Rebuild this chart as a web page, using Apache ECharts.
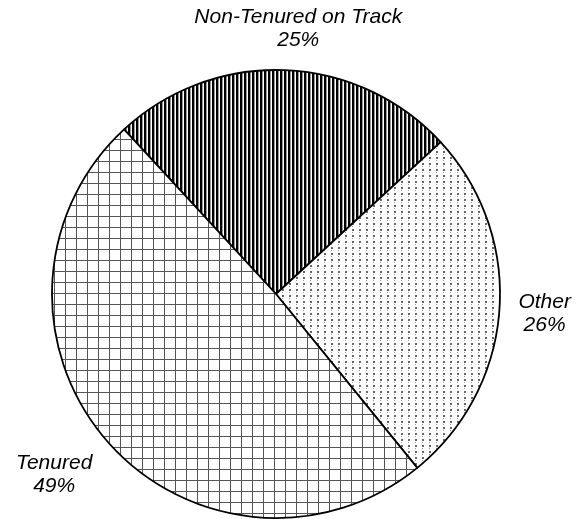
<!DOCTYPE html>
<html>
<head>
<meta charset="utf-8">
<script src="https://cdn.jsdelivr.net/npm/echarts@6/dist/echarts.min.js"></script>
<style>
  html, body { margin: 0; padding: 0; background: #fff; }
  #chart { width: 578px; height: 519px; }
</style>
</head>
<body>
<div id="chart"></div>
<script>
// Faculty composition by tenure status
const categories = ['Non-Tenured on Track', 'Other', 'Tenured'];
const values = [25, 26, 49];

// Pie geometry
const CENTER = [276, 294];
const RADIUS = 224;
const START_ANGLE = 132.7;
const LABEL_GAP = 19;

// Hatch fills drawn into small repeating tiles
function makeTile(w, h, draw) {
  const c = document.createElement('canvas');
  c.width = w; c.height = h;
  const ctx = c.getContext('2d');
  ctx.fillStyle = '#fff';
  ctx.fillRect(0, 0, w, h);
  draw(ctx);
  return c;
}

const stripeTile = makeTile(4, 4, ctx => {
  ctx.fillStyle = '#000';
  ctx.fillRect(0, 0, 2, 4);
  ctx.fillStyle = '#9a9a9a';
  ctx.fillRect(2, 0, 1, 4);
});

const dotTile = makeTile(7, 6, ctx => {
  ctx.fillStyle = '#666';
  ctx.fillRect(2, 1, 2, 2);
  ctx.fillStyle = '#999';
  ctx.fillRect(2, 4, 1, 1);
});

const gridTile = makeTile(11, 11, ctx => {
  ctx.fillStyle = '#555';
  ctx.fillRect(10, 0, 1, 11);
  ctx.fillRect(0, 7, 11, 1);
});

const fills = [stripeTile, dotTile, gridTile];

// Mid-angle of each slice (degrees, counter-clockwise from 3 o'clock), slices run clockwise
const total = values.reduce((a, b) => a + b, 0);
const midAngles = [];
{
  let a = START_ANGLE;
  values.forEach(v => {
    const span = v / total * 360;
    midAngles.push(a - span / 2);
    a -= span;
  });
}

const clamp = (v, lo, hi) => Math.max(lo, Math.min(hi, v));

const chart = echarts.init(document.getElementById('chart'), null, { renderer: 'canvas' });

chart.setOption({
  animation: false,
  backgroundColor: '#fff',
  series: [{
    type: 'pie',
    center: CENTER,
    radius: RADIUS,
    startAngle: START_ANGLE,
    clockwise: true,
    silent: true,
    data: categories.map((name, i) => ({
      name,
      value: values[i],
      itemStyle: { color: { image: fills[i], repeat: 'repeat' } }
    })),
    itemStyle: { borderColor: '#000', borderWidth: 1.8 },
    label: {
      show: true,
      position: 'outside',
      overflow: 'none',
      formatter: p => p.name + '\n' + p.value + '%',
      fontFamily: '"Liberation Sans", Arial, sans-serif',
      fontStyle: 'italic',
      fontSize: 21,
      lineHeight: 23,
      color: '#000',
      align: 'center'
    },
    labelLine: { show: false },
    emphasis: { disabled: true },
    // Place each label just beyond the rim along its slice's mid-angle
    labelLayout: function (params) {
      const th = midAngles[params.dataIndex] * Math.PI / 180;
      const c = Math.cos(th), s = Math.sin(th);
      const px = CENTER[0] + (RADIUS + LABEL_GAP) * c;
      const py = CENTER[1] - (RADIUS + LABEL_GAP) * s;
      const w = params.labelRect.width, h = params.labelRect.height;
      return {
        x: px + w / 2 * clamp(c * 3, -1, 1),
        y: py - h / 2 * clamp(s * 1.4, -1, 1),
        align: 'center',
        verticalAlign: 'middle'
      };
    }
  }]
});
</script>
</body>
</html>
